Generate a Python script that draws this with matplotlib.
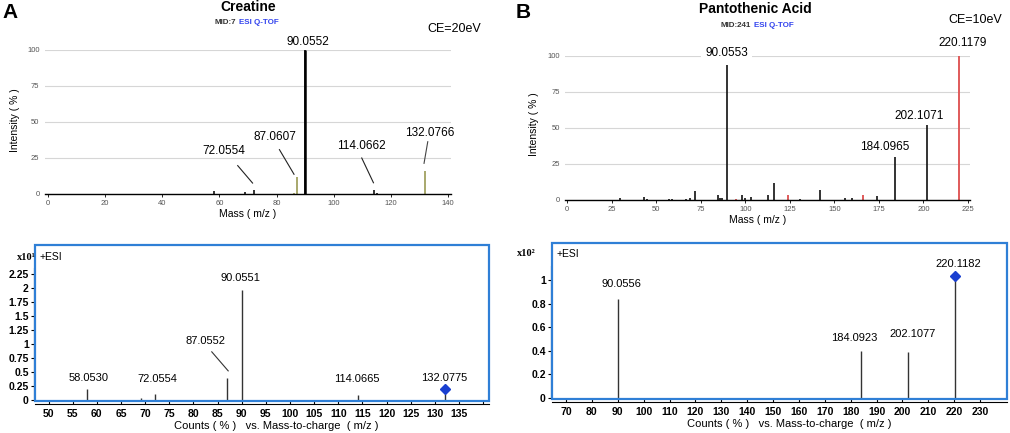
import matplotlib.pyplot as plt
from matplotlib.patches import Rectangle

plt.rcParams['font.family'] = ['Liberation Sans', 'DejaVu Sans']

# ---- data ----
# A, library spectrum of creatine (CE 20 eV), intensity in %
cre_lib_mz = [58.0, 69.0, 72.0554, 90.0552, 114.0662, 115.0]
cre_lib_int = [2, 1.5, 2.5, 100, 3, 1]
cre_lib_frag_mz = [86.0, 87.0607, 132.0766]          # olive peaks
cre_lib_frag_int = [1, 12, 16]

# B, library spectrum of pantothenic acid (CE 10 eV)
pan_lib_mz = [30, 43, 45, 57, 59, 67, 69, 72, 85, 86, 87, 90.0553, 98, 100,
              103, 113, 116, 131, 142, 156, 160, 174, 184.0965, 202.1071]
pan_lib_int = [1.6, 1.9, 0.5, 1, 1, 0.7, 1.5, 6.5, 3.2, 1.5, 1.5, 94, 3.8,
               1.6, 1.8, 3.2, 11.8, 0.5, 7, 1.2, 1.2, 3, 30, 52]
pan_lib_red_mz = [95, 124, 166, 220.1179]
pan_lib_red_int = [1, 3.5, 3.2, 100]

# measured spectra (counts x10^1 and x10^2)
cre_meas_mz = [58.0530, 69.05, 72.0554, 87.0552, 90.0551, 114.0665, 132.0775]
cre_meas_int = [0.19, 0.04, 0.10, 0.39, 1.96, 0.09, 0.11]
cre_prec_int = 0.20

pan_meas_mz = [90.0556, 184.0923, 202.1077, 220.1182]
pan_meas_int = [0.84, 0.40, 0.39, 1.00]
pan_prec_int = 1.04

fig = plt.figure(figsize=(10.1, 4.33), dpi=100)
W, H = 1010, 433


def box(l, t, r, b):
    return [l / W, 1 - b / H, (r - l) / W, (b - t) / H]


def ftxt(px, py, s, **kw):
    kw.setdefault('ha', 'center')
    kw.setdefault('va', 'center')
    fig.text(px / W, 1 - py / H, s, **kw)


def lib_axes(ax, xmax, step):
    ax.set_xlim(-1, xmax + 1)
    ax.set_ylim(0, 100)
    for s in ['left', 'right', 'top']:
        ax.spines[s].set_visible(False)
    ax.spines['bottom'].set_linewidth(1.0)
    ax.set_yticks([0, 25, 50, 75, 100])
    ax.set_xticks(range(0, xmax + 1, step))
    ax.yaxis.grid(True, color='#d6d6d6', lw=0.8)
    ax.set_axisbelow(True)
    ax.tick_params(axis='x', length=2.5, width=0.6, labelsize=5.5,
                   labelcolor='#555555', pad=1.5)
    ax.tick_params(axis='y', length=0, labelsize=5.5, labelcolor='#555555', pad=4)


def meas_axes(ax, xlim, ylim, xticks, yticks, ytop):
    ax.set_xlim(*xlim)
    ax.set_ylim(*ylim)
    ax.spines['top'].set_visible(False)
    ax.spines['right'].set_visible(False)
    ax.spines['bottom'].set_position(('outward', 2.5))
    ax.spines['left'].set_position(('outward', 1))
    ax.spines['left'].set_bounds(0, ytop)
    ax.add_patch(Rectangle((0, 0), 1, 1, transform=ax.transAxes, fill=False,
                           edgecolor='#2f7fd6', lw=1.6, clip_on=False, zorder=5))
    ax.set_xticks(xticks)
    ax.set_yticks(yticks)
    ax.set_yticklabels([f'{v:g}' for v in yticks])
    ax.tick_params(axis='x', direction='in', length=3, width=0.8, labelsize=7.5, pad=3)
    ax.tick_params(axis='y', direction='out', length=2.5, width=0.8, labelsize=7.5, pad=1)
    for lab in ax.get_xticklabels() + ax.get_yticklabels():
        lab.set_fontweight('bold')


# ---------- A top ----------
axA = fig.add_axes(box(45.1, 50, 450.9, 194))
lib_axes(axA, 140, 20)
axA.vlines(cre_lib_mz, 0, cre_lib_int, color='#111111', lw=1.2)
axA.vlines(cre_lib_frag_mz, 0, cre_lib_frag_int, color='#a8a86c', lw=1.4)
axA.vlines([90.0552], 0, [100], color='#000000', lw=1.8)
lab_kw = dict(fontsize=8.5, ha='center', va='center', clip_on=False)
axA.text(90.8, 105.8, '90.0552', **lab_kw)
axA.text(61.6, 30, '72.0554', **lab_kw)
axA.plot([66.4, 71.6], [19.7, 7.6], color='#222222', lw=0.8)
axA.text(79.6, 39.3, '87.0607', **lab_kw)
axA.plot([81.0, 86.1], [30.8, 13.7], color='#222222', lw=0.8)
axA.text(109.5, 33.5, '114.0662', **lab_kw)
axA.plot([109.8, 113.9], [25, 7.8], color='#222222', lw=0.8)
axA.text(133.7, 42.1, '132.0766', **lab_kw)
axA.plot([132.9, 131.6], [36.3, 21.3], color='#444444', lw=0.8)

ftxt(10, 12, 'A', fontsize=15, fontweight='bold')
ftxt(248, 7, 'Creatine', fontsize=10, fontweight='bold')
ftxt(236, 22, 'MID:7', fontsize=5.8, fontweight='bold', ha='right', color='#333333')
ftxt(239, 22, 'ESI Q-TOF', fontsize=5.8, fontweight='bold', ha='left', color='#3344ee')
ftxt(454, 29, 'CE=20eV', fontsize=9)
ftxt(248, 214, 'Mass ( m/z )', fontsize=7.5)
ftxt(15, 120, 'Intensity ( % )', fontsize=7.5, rotation=90)

# ---------- B top ----------
axB = fig.add_axes(box(565.2, 56, 969.8, 200))
lib_axes(axB, 225, 25)
axB.vlines(pan_lib_mz, 0, pan_lib_int, color='#111111', lw=1.2)
axB.vlines(pan_lib_red_mz, 0, pan_lib_red_int, color='#e05a5a', lw=1.4)
axB.text(89.7, 102.3, '90.0553', bbox=dict(facecolor='white', edgecolor='none', pad=3),
         **lab_kw)
axB.text(221.7, 108.8, '220.1179', **lab_kw)
axB.text(197.8, 58.3, '202.1071', **lab_kw)
axB.text(178.0, 37.0, '184.0965', **lab_kw)

ftxt(523, 12, 'B', fontsize=15, fontweight='bold')
ftxt(755, 9, 'Pantothenic Acid', fontsize=10, fontweight='bold')
ftxt(751, 25.7, 'MID:241', fontsize=5.8, fontweight='bold', ha='right', color='#333333')
ftxt(754, 25.7, 'ESI Q-TOF', fontsize=5.8, fontweight='bold', ha='left', color='#3344ee')
ftxt(975, 20, 'CE=10eV', fontsize=9)
ftxt(758, 220, 'Mass ( m/z )', fontsize=7.5)
ftxt(534, 124, 'Intensity ( % )', fontsize=7.5, rotation=90)

# ---------- A bottom ----------
axC = fig.add_axes(box(35, 245, 489, 401))
meas_axes(axC, (47.2, 141.2), (-0.018, 2.768), list(range(50, 141, 5)),
          [0, 0.25, 0.5, 0.75, 1, 1.25, 1.5, 1.75, 2, 2.25], 2.36)
axC.set_xticklabels([str(v) for v in range(50, 136, 5)] + [''])
axC.vlines(cre_meas_mz, 0, cre_meas_int, color='#333333', lw=1.0)
axC.plot([cre_meas_mz[-1]], [cre_prec_int], 'D', color='#1a3fd0', ms=5, zorder=6)
mk = dict(fontsize=8, ha='center', va='center', clip_on=False)
axC.text(58.3, 0.40, '58.0530', **mk)
axC.text(72.6, 0.375, '72.0554', **mk)
axC.text(82.6, 1.06, '87.0552', **mk)
axC.plot([83.8, 87.2], [0.86, 0.52], color='#333333', lw=0.8)
axC.text(89.7, 2.17, '90.0551', **mk)
axC.text(113.9, 0.375, '114.0665', **mk)
axC.text(131.9, 0.39, '132.0775', **mk)
ftxt(17, 257, 'x10¹', fontsize=7.5, fontweight='bold', family='Liberation Serif', ha='left')
ftxt(40, 257, '+ESI', fontsize=7.5, ha='left')
ftxt(276, 426, 'Counts ( % )   vs. Mass-to-charge  ( m/z )', fontsize=8)

# ---------- B bottom ----------
axD = fig.add_axes(box(552, 243, 1007, 399))
meas_axes(axD, (64.6, 240.4), (-0.0085, 1.317), list(range(70, 231, 10)),
          [0, 0.2, 0.4, 0.6, 0.8, 1], 1.12)
axD.vlines(pan_meas_mz, 0, pan_meas_int, color='#333333', lw=1.0)
axD.plot([pan_meas_mz[-1]], [pan_prec_int], 'D', color='#1a3fd0', ms=5, zorder=6)
axD.text(91.3, 0.966, '90.0556', **mk)
axD.text(181.3, 0.513, '184.0923', **mk)
axD.text(203.9, 0.541, '202.1077', **mk)
axD.text(221.4, 1.142, '220.1182', **mk)
ftxt(517, 254, 'x10²', fontsize=7.5, fontweight='bold', family='Liberation Serif', ha='left')
ftxt(557, 254, '+ESI', fontsize=7.5, ha='left')
ftxt(789, 424, 'Counts ( % )   vs. Mass-to-charge  ( m/z )', fontsize=8)

fig.savefig('out.png', dpi=100)
